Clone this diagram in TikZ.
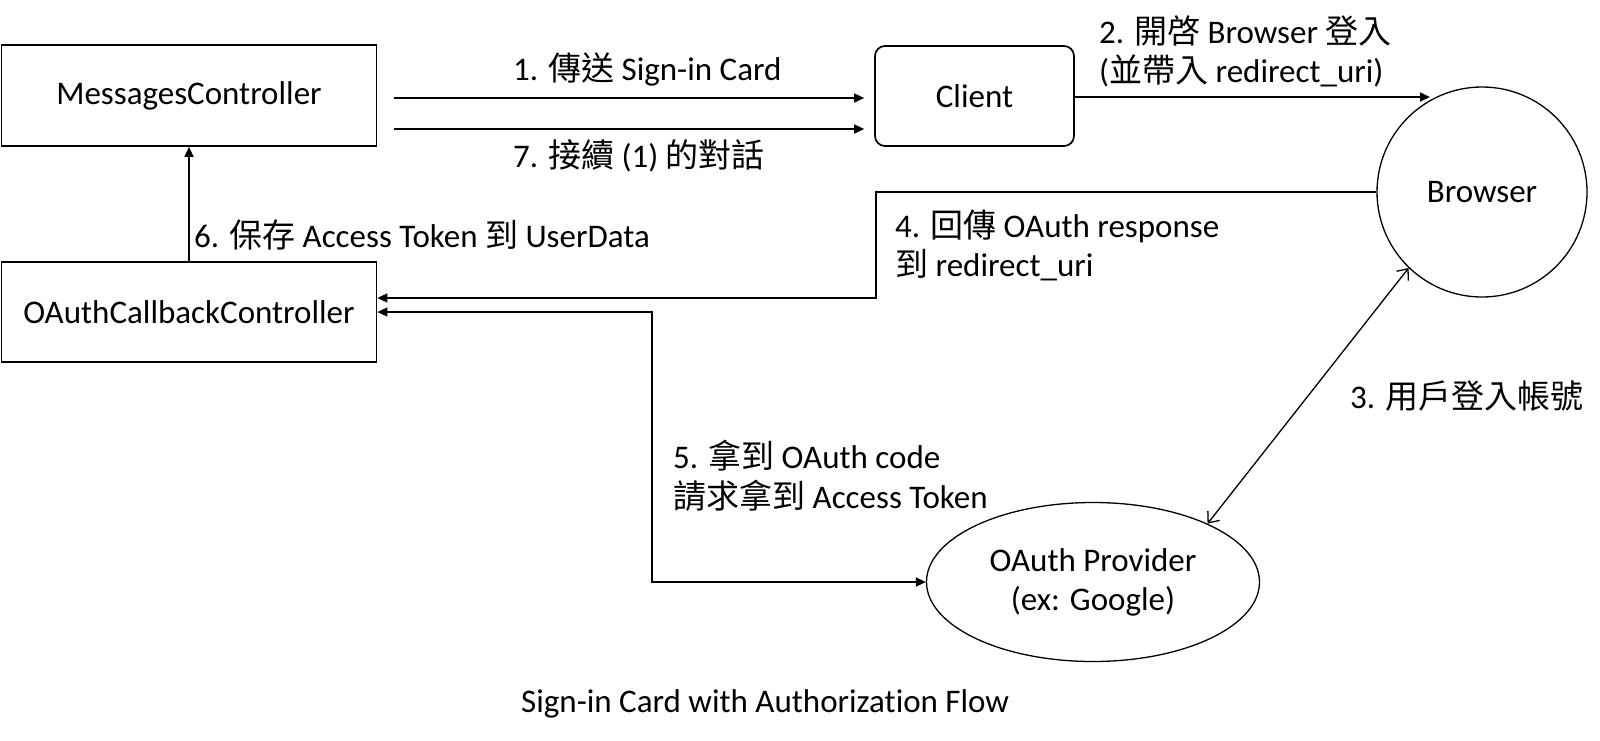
\documentclass[tikz,border=0pt]{standalone}
\usepackage{fontspec}
\setmainfont{Carlito}[Ligatures=CommonOff]
\newfontfamily\cjk{Noto Sans CJK TC}
\newcommand\zh[1]{{\cjk #1}}
\usetikzlibrary{arrows.meta,shapes.geometric}
\tikzset{
  every node/.style={font=\fontsize{33}{39}\selectfont, text=black},
  boxnode/.style={draw, rectangle, line width=1.7pt, inner sep=0pt},
  lbl/.style={anchor=base west, inner sep=0pt},
  arr/.style={line width=1.6pt, -{Triangle[length=10pt,width=9pt]}},
  darr/.style={line width=1.6pt, {Triangle[length=10pt,width=9pt]}-{Triangle[length=10pt,width=9pt]}},
  barb/.style={line width=1.3pt, {Straight Barb[length=9pt,width=15pt]}-{Straight Barb[length=9pt,width=15pt]}},
}
\begin{document}
\begin{tikzpicture}[x=1pt,y=-1pt]
\useasboundingbox (0,0) rectangle (1600,740);
\fill[white] (0,0) rectangle (1600,740);

% nodes
\node[boxnode, minimum width=375pt, minimum height=101pt] (mc) at (189,95.5) {MessagesController};
\node[boxnode, minimum width=375pt, minimum height=100pt] (oac) at (189,312) {OAuthCallbackController};
\node[boxnode, rounded corners=10pt, minimum width=199pt, minimum height=100pt] (client) at (974.5,96) {Client};
\node[draw, circle, line width=1.3pt, minimum size=210pt, inner sep=0pt] (browser) at (1482,192) {Browser};
\node[draw, ellipse, line width=1.3pt, minimum width=333pt, minimum height=159pt, inner sep=0pt, align=center] (provider) at (1093,582) {OAuth Provider\\(ex: Google)};

\coordinate (b2) at (1430,97);

% connectors
\draw[arr, shorten <=16.5pt, shorten >=10pt] (mc.east |- 0,98) -- (client.west |- 0,98);
\draw[arr, shorten <=16.5pt, shorten >=10pt] (mc.east |- 0,129) -- (client.west |- 0,129);
\draw[arr] (client.east |- b2) -- (b2);
\draw[arr] (browser.west) -| (876,298) -- (oac.east |- 0,298);
\draw[darr] (oac.east |- 0,312) -| (652,582) -- (provider.west);
\draw[arr] (oac.north) -- (mc.south);
\draw[barb] (browser.226) -- (provider.27);

% labels
\node[lbl] (l1) at (513,80) {1. \zh{傳送} Sign-in Card};
\node[lbl] (l7) at (513,167) {7. \zh{接續} (1) \zh{的對話}};
\node[lbl] (l2a) at (1099,43) {2. \zh{開啓} Browser \zh{登入}};
\node[lbl] (l2b) at (1099,82) {(\zh{並帶入} redirect\_uri)};
\node[lbl] (l4a) at (895,237) {4. \zh{回傳} OAuth response};
\node[lbl] (l4b) at (895,276) {\zh{到} redirect\_uri};
\node[lbl] (l6) at (194,247) {6. \zh{保存} Access Token \zh{到} UserData};
\node[lbl] (l3) at (1350,408) {3. \zh{用戶登入帳號}};
\node[lbl] (l5a) at (673,468) {5. \zh{拿到} OAuth code};
\node[lbl] (l5b) at (673,508) {\zh{請求拿到} Access Token};
\node[lbl] (title) at (521,712) {Sign-in Card with Authorization Flow};
\end{tikzpicture}
\end{document}
